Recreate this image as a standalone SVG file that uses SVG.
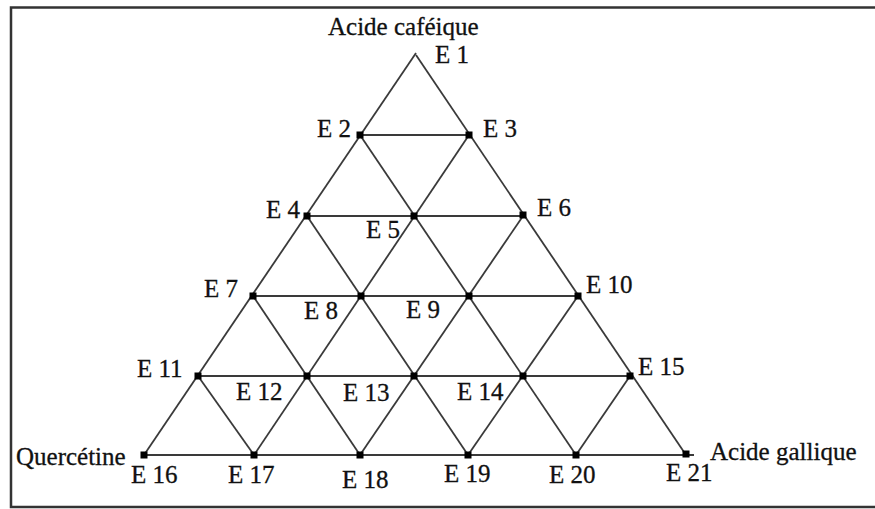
<svg xmlns="http://www.w3.org/2000/svg" width="875" height="509" viewBox="0 0 875 509">
<style>
.frame{fill:none;stroke:#333;stroke-width:2.5}
.ln{stroke:#3a3a3a;stroke-width:1.8;fill:none}
.pt{fill:#000}
text{font-family:"Liberation Serif","Times New Roman",serif;font-size:25px;fill:#111;stroke:#111;stroke-width:0.3}
</style>
<rect x="0" y="0" width="875" height="509" fill="#fff"/>
<path class="frame" d="M878,7.5 H11 V507 H878"/>
<g id="connectors">
<line class="ln" x1="360" y1="135" x2="469" y2="135"/>
<line class="ln" x1="307" y1="216" x2="523" y2="216"/>
<line class="ln" x1="253" y1="296" x2="578" y2="296"/>
<line class="ln" x1="198" y1="376" x2="630" y2="376"/>
<line class="ln" x1="144" y1="455" x2="694" y2="455"/>
<line class="ln" x1="144" y1="455" x2="416" y2="53"/>
<line class="ln" x1="254" y1="455" x2="469" y2="135"/>
<line class="ln" x1="360" y1="455" x2="523" y2="216"/>
<line class="ln" x1="468" y1="455" x2="578" y2="296"/>
<line class="ln" x1="576" y1="455" x2="630" y2="376"/>
<line class="ln" x1="686" y1="455" x2="416" y2="55"/>
<line class="ln" x1="576" y1="455" x2="360" y2="135"/>
<line class="ln" x1="468" y1="455" x2="307" y2="216"/>
<line class="ln" x1="360" y1="455" x2="253" y2="296"/>
<line class="ln" x1="254" y1="455" x2="198" y2="376"/>
</g>
<g id="E1"><text x="435" y="63">E 1</text></g>
<g id="E2"><rect class="pt" x="356.5" y="131.5" width="7" height="7"/><text x="317" y="137">E 2</text></g>
<g id="E3"><rect class="pt" x="465.5" y="131.5" width="7" height="7"/><text x="483" y="137">E 3</text></g>
<g id="E4"><rect class="pt" x="303.5" y="212.5" width="7" height="7"/><text x="266" y="218">E 4</text></g>
<g id="E5"><rect class="pt" x="410.5" y="212.5" width="7" height="7"/><text x="366" y="238">E 5</text></g>
<g id="E6"><rect class="pt" x="519.5" y="211.5" width="7" height="7"/><text x="537" y="216">E 6</text></g>
<g id="E7"><rect class="pt" x="249.5" y="292.5" width="7" height="7"/><text x="204" y="297">E 7</text></g>
<g id="E8"><rect class="pt" x="357.5" y="292.5" width="7" height="7"/><text x="304" y="319">E 8</text></g>
<g id="E9"><rect class="pt" x="465.5" y="292.5" width="7" height="7"/><text x="406" y="318">E 9</text></g>
<g id="E10"><rect class="pt" x="574.5" y="292.5" width="7" height="7"/><text x="586" y="293">E 10</text></g>
<g id="E11"><rect class="pt" x="194.5" y="372.5" width="7" height="7"/><text x="137" y="377">E 11</text></g>
<g id="E12"><rect class="pt" x="303.5" y="372.5" width="7" height="7"/><text x="236" y="400">E 12</text></g>
<g id="E13"><rect class="pt" x="410.5" y="372.5" width="7" height="7"/><text x="343" y="401">E 13</text></g>
<g id="E14"><rect class="pt" x="519.5" y="372.5" width="7" height="7"/><text x="457" y="400">E 14</text></g>
<g id="E15"><rect class="pt" x="626.5" y="372.5" width="7" height="7"/><text x="638" y="375">E 15</text></g>
<g id="E16"><rect class="pt" x="140.5" y="451.5" width="7" height="7"/><text x="131" y="483">E 16</text></g>
<g id="E17"><rect class="pt" x="250.5" y="451.5" width="7" height="7"/><text x="228" y="483">E 17</text></g>
<g id="E18"><rect class="pt" x="356.5" y="451.5" width="7" height="7"/><text x="342" y="488">E 18</text></g>
<g id="E19"><rect class="pt" x="464.5" y="451.5" width="7" height="7"/><text x="444" y="482">E 19</text></g>
<g id="E20"><rect class="pt" x="572.5" y="451.5" width="7" height="7"/><text x="549" y="483">E 20</text></g>
<g id="E21"><rect class="pt" x="682.5" y="450.5" width="7" height="7"/><text x="666" y="481">E 21</text></g>
<g id="labels">
<text x="328" y="35">Acide caféique</text>
<text x="16" y="465">Quercétine</text>
<text x="710" y="460">Acide gallique</text>
</g>
</svg>
